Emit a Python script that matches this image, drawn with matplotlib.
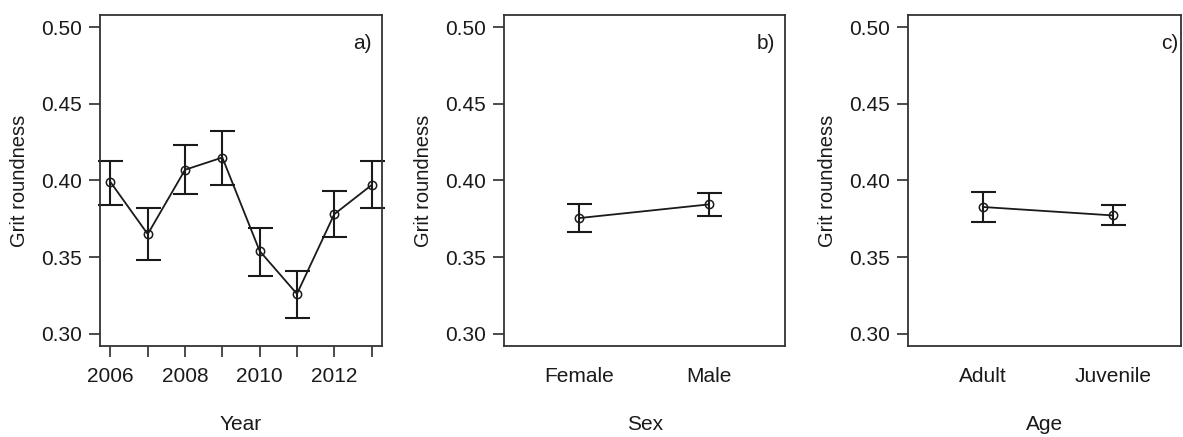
import matplotlib
matplotlib.use("Agg")
import matplotlib.pyplot as plt

plt.rcParams['font.family'] = ['Liberation Sans', 'DejaVu Sans']

# 연도별 평균과 신뢰구간
years = [2006, 2007, 2008, 2009, 2010, 2011, 2012, 2013]
year_mean = [0.399, 0.365, 0.407, 0.415, 0.354, 0.326, 0.378, 0.397]
year_low = [0.384, 0.348, 0.391, 0.397, 0.338, 0.310, 0.363, 0.382]
year_high = [0.413, 0.382, 0.423, 0.432, 0.369, 0.341, 0.393, 0.413]

# 성별
sex_labels = ['Female', 'Male']
sex_mean = [0.3755, 0.3844]
sex_low = [0.3667, 0.3770]
sex_high = [0.3844, 0.3920]

# 연령
age_labels = ['Adult', 'Juvenile']
age_mean = [0.3827, 0.3772]
age_low = [0.3728, 0.3707]
age_high = [0.3925, 0.3842]

yticks = [0.30, 0.35, 0.40, 0.45, 0.50]
ylim = (0.292, 0.508)

fig = plt.figure(figsize=(11.83, 4.37), dpi=100)
H = 437.0
W = 1183.0
bottom = 1 - 346 / H
height = (346 - 15) / H
ax_a = fig.add_axes([100 / W, bottom, 282 / W, height])
ax_b = fig.add_axes([504.3 / W, bottom, 281 / W, height])
ax_c = fig.add_axes([908 / W, bottom, 272.5 / W, height])

col = '#1a1a1a'


def draw(ax, x, mean, low, high):
    yerr = [[m - l for m, l in zip(mean, low)], [h - m for m, h in zip(mean, high)]]
    ax.errorbar(x, mean, yerr=yerr, fmt='none', ecolor=col, elinewidth=1.5,
                capsize=9, capthick=1.5, clip_on=False)
    ax.plot(x, mean, color=col, lw=1.3, marker='o', markersize=6,
            markerfacecolor='none', markeredgecolor=col, markeredgewidth=1.1)


def style(ax, tag, tag_x, xlabel):
    ax.set_ylim(*ylim)
    ax.set_yticks(yticks)
    ax.set_yticklabels([f"{v:.2f}" for v in yticks])
    ax.set_ylabel('Grit roundness', fontsize=14.5, color=col, labelpad=9)
    ax.tick_params(axis='both', length=8, width=1.1, color=col, labelsize=15,
                   labelcolor=col)
    ax.tick_params(axis='y', pad=5)
    for s in ax.spines.values():
        s.set_linewidth(1.3)
        s.set_color('#333333')
    ax.text(tag_x, 0.915, tag, transform=ax.transAxes, ha='center', va='center',
            fontsize=15, color=col)
    # 축 제목은 눈금 글자에서 멀리 떨어뜨려 그림 아래쪽에 둔다
    pos = ax.get_position()
    fig.text(pos.x0 + pos.width / 2, 1 - 425 / H, xlabel, ha='center',
             va='center', fontsize=15, color=col)


# a) 연도
draw(ax_a, years, year_mean, year_low, year_high)
ax_a.set_xlim(2005.72, 2013.28)
ax_a.set_xticks(years)
ax_a.set_xticklabels([str(y) if y % 2 == 0 else '' for y in years])
style(ax_a, 'a)', 0.929, 'Year')
ax_a.tick_params(axis='x', pad=7)

# b) 성별
draw(ax_b, [1, 2], sex_mean, sex_low, sex_high)
ax_b.set_xlim(0.42, 2.59)
ax_b.set_xticks([1, 2])
ax_b.set_xticklabels(sex_labels)
style(ax_b, 'b)', 0.931, 'Sex')
ax_b.tick_params(axis='x', length=0, pad=15)

# c) 연령
draw(ax_c, [1, 2], age_mean, age_low, age_high)
ax_c.set_xlim(0.42, 2.52)
ax_c.set_xticks([1, 2])
ax_c.set_xticklabels(age_labels)
style(ax_c, 'c)', 0.96, 'Age')
ax_c.tick_params(axis='x', length=0, pad=15)

fig.savefig('out.png', dpi=100)
